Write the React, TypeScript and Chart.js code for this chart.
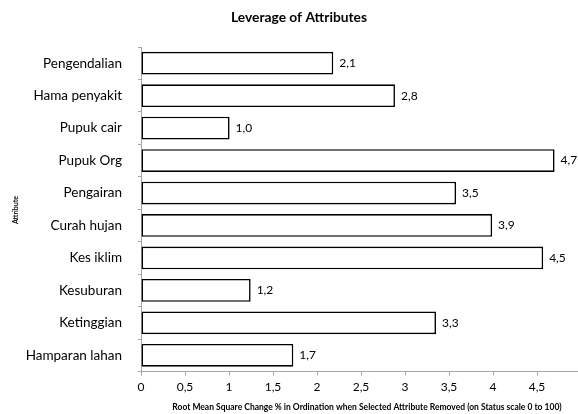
import React, { useEffect, useRef } from "react";
import { Chart, registerables } from "chart.js";

Chart.register(...registerables);

const categories = [
  "Pengendalian",
  "Hama penyakit",
  "Pupuk cair",
  "Pupuk Org",
  "Pengairan",
  "Curah hujan",
  "Kes iklim",
  "Kesuburan",
  "Ketinggian",
  "Hamparan lahan",
];
const values = [2.185, 2.886, 1.007, 4.7, 3.58, 3.99, 4.57, 1.246, 3.352, 1.731];
const xTickMax = 5;
const xTickStep = 0.5;

const titleText = "Leverage of Attributes";
const xTitle = "Root Mean Square Change % in Ordination when Selected Attribute Removed (on Status scale 0 to 100)";
const yTitle = "Attribute";

const FONT = "Lato, 'Open Sans', sans-serif";
const AXIS_GREY = "#a6a6a6";

const fmt = (v: number) => (Math.floor(v * 10 + 1e-6) / 10).toFixed(1).replace(".", ",");

export default function App() {
  const ref = useRef<HTMLCanvasElement | null>(null);
  useEffect(() => {
    if (!ref.current) return;
    const overlay = {
      id: "overlay",
      afterDatasetsDraw(chart: any) {
        const ctx = chart.ctx;
        const meta = chart.getDatasetMeta(0);
        ctx.save();
        ctx.fillStyle = "#000";
        ctx.font = `12px ${FONT}`;
        ctx.textAlign = "left";
        ctx.textBaseline = "middle";
        meta.data.forEach((el: any, i: number) => {
          ctx.fillText(fmt(values[i]), el.x + 6, el.y);
        });
        ctx.restore();
      },
      afterDraw(chart: any) {
        const ctx = chart.ctx;
        ctx.save();
        ctx.fillStyle = "#000";
        ctx.textAlign = "center";
        ctx.textBaseline = "middle";
        ctx.font = `bold 13.8px ${FONT}`;
        ctx.fillText(titleText, 299, 18);
        ctx.font = `bold 8.5px ${FONT}`;
        ctx.fillText(xTitle, 367, 407);
        ctx.translate(16, 210);
        ctx.rotate(-Math.PI / 2);
        ctx.font = `bold 7px ${FONT}`;
        ctx.fillText(yTitle, 0, 0);
        ctx.restore();
      },
    };
    const chart = new Chart(ref.current, {
      type: "bar",
      data: {
        labels: categories,
        datasets: [
          {
            data: values,
            backgroundColor: "#ffffff",
            borderColor: "#000000",
            borderWidth: 1.6,
            borderSkipped: false,
            barPercentage: 0.7,
            categoryPercentage: 1,
          },
        ],
      },
      options: {
        indexAxis: "y",
        animation: false,
        responsive: false,
        layout: { padding: { top: 47, right: 19, left: 0, bottom: 0 } },
        plugins: { legend: { display: false }, title: { display: false }, tooltip: { enabled: false } },
        scales: {
          x: {
            min: 0,
            max: xTickMax,
            afterFit: (s: any) => {
              s.height = 42.5;
            },
            ticks: {
              stepSize: xTickStep,
              padding: 4,
              color: "#000",
              font: { family: FONT, size: 12 },
              callback: (v: any) => (Number(v) >= xTickMax ? "" : String(v).replace(".", ",")),
            },
            grid: { drawOnChartArea: false, tickLength: 4, color: AXIS_GREY },
            border: { color: AXIS_GREY },
          },
          y: {
            afterFit: (s: any) => {
              s.width = 141;
            },
            ticks: { padding: 16, color: "#000", font: { family: FONT, size: 13.5 } },
            grid: { drawOnChartArea: false, tickLength: 3, color: AXIS_GREY, offset: true },
            border: { color: AXIS_GREY },
          },
        },
      },
      plugins: [overlay],
    } as any);
    return () => chart.destroy();
  }, []);
  return (
    <div style={{ position: "fixed", left: 0, top: 0, width: 578, height: 414, overflow: "hidden", background: "#fff" }}>
      <canvas ref={ref} width={600} height={414} style={{ display: "block" }} />
    </div>
  );
}
